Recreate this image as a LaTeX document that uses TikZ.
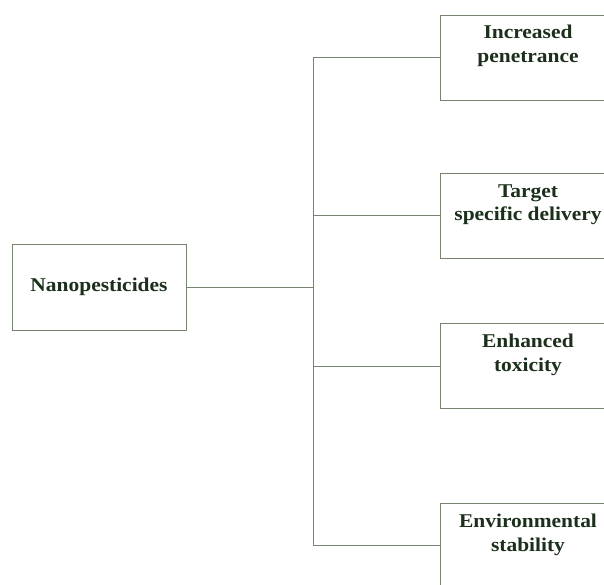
\documentclass[tikz,border=0pt]{standalone}
\usepackage{fontspec}
\newfontfamily\labfont{Liberation Serif}[FakeStretch=1.1]
\definecolor{linegreen}{HTML}{76846F}
\definecolor{textgreen}{HTML}{1B2F1B}
\begin{document}
\begin{tikzpicture}[x=1pt,y=-1pt,
  every node/.style={font=\labfont\bfseries\fontsize{19.5}{24}\selectfont, text=textgreen},
  rootbox/.style={draw=linegreen, line width=0.9pt, minimum width=174pt, minimum height=86pt, inner sep=0pt},
  leafbox/.style={draw=linegreen, line width=0.9pt, inner sep=0pt},
  link/.style={draw=linegreen, line width=0.9pt}]
\useasboundingbox (0,0) rectangle (604,585);
\clip (0,0) rectangle (604,585);
\fill[white] (0,0) rectangle (604,585);

% root
\node[rootbox] (root) at (99,287) {Nanopesticides};

% leaves (top-aligned text inside fixed-size boxes)
\newcommand{\leaftext}[2]{\parbox[t][85pt][t]{176pt}{\centering\rule{0pt}{24pt}#1\\#2}}
\node[leafbox] (b1) at (528,57.5) {\leaftext{Increased}{penetrance}};
\node[leafbox] (b2) at (528,215.5) {\leaftext{Target}{specific delivery}};
\node[leafbox] (b3) at (528,366) {\leaftext{Enhanced}{toxicity}};
\node[leafbox] (b4) at (528,545.5) {\leaftext{Environmental}{stability}};

% trunk junctions
\coordinate (k1) at (313,57.5);
\coordinate (k2) at (313,215.5);
\coordinate (k3) at (313,366);
\coordinate (k4) at (313,545.5);

% connectors
\draw[link] (root.east) -- (root.east -| k1);
\draw[link] (b1.west) -- (k1) -- (k4) -- (b4.west);
\draw[link] (k2) -- (b2.west);
\draw[link] (k3) -- (b3.west);
\end{tikzpicture}
\end{document}
